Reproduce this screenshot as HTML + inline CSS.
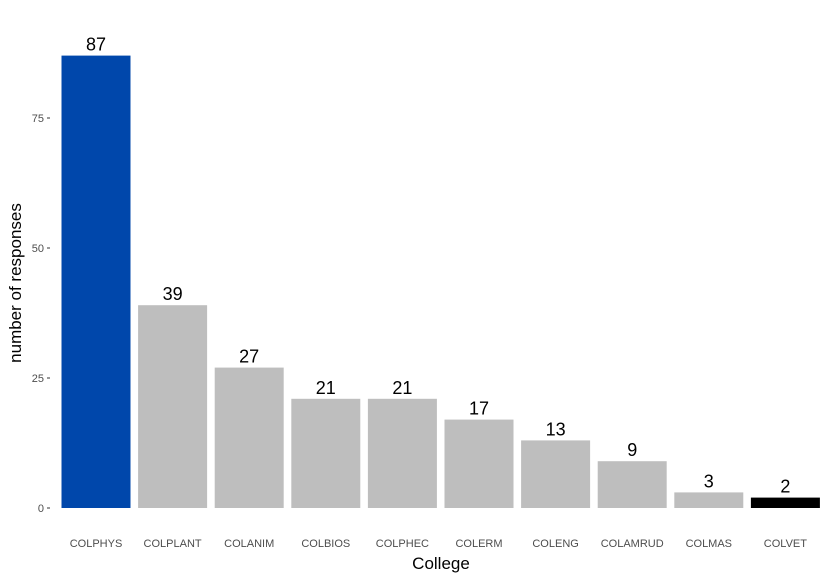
<!DOCTYPE html>
<html><head><meta charset="utf-8"><style>
body{margin:0;background:#fff}
svg{display:block;font-family:"Liberation Sans",Arial,sans-serif}
</style></head><body>
<svg id="chart" width="839" height="578" viewBox="0 0 839 578">
<g id="plot"></g>
<text x="441" y="569" font-size="17" text-anchor="middle" fill="#000">College</text>
<text transform="translate(21,283) rotate(-90)" font-size="17" text-anchor="middle" fill="#000">number of responses</text>
</svg>
<script>
const categories=["COLPHYS","COLPLANT","COLANIM","COLBIOS","COLPHEC","COLERM","COLENG","COLAMRUD","COLMAS","COLVET"];
const values=[87,39,27,21,21,17,13,9,3,2];
const colors=["#0047AB","#BEBEBE","#BEBEBE","#BEBEBE","#BEBEBE","#BEBEBE","#BEBEBE","#BEBEBE","#BEBEBE","#000000"];
const yTicks=[0,25,50,75];
const NS="http://www.w3.org/2000/svg";
const g=document.getElementById('plot');
const y0=508,ppu=5.2,step=76.6,x0=96,bw=69;
function yS(v){return y0-v*ppu;}
function xS(i){return x0+i*step;}
function mk(t,a,txt){const e=document.createElementNS(NS,t);for(const k in a)e.setAttribute(k,a[k]);if(txt!==undefined)e.textContent=txt;g.appendChild(e);return e;}
yTicks.forEach(t=>{
  const l=mk('line',{x1:47,x2:50,y1:yS(t),y2:yS(t),stroke:'#333','stroke-width':1});
  
  
  const tx=mk('text',{x:44,y:yS(t)+4,'font-size':11,'text-anchor':'end',fill:'#4d4d4d'},t);
  
  
});
categories.forEach((c,i)=>{
  const v=values[i];
  const r=mk('rect',{x:xS(i)-bw/2,y:yS(v),width:bw,height:y0-yS(v),fill:colors[i]});
  
  
  const lb=mk('text',{x:xS(i),y:yS(v)-5,'font-size':18,'text-anchor':'middle',fill:'#000'},v);
  
  
  const xl=mk('text',{x:xS(i),y:547,'font-size':11,'text-anchor':'middle',fill:'#4d4d4d'},c);
  
  
});
</script>
</body></html>
